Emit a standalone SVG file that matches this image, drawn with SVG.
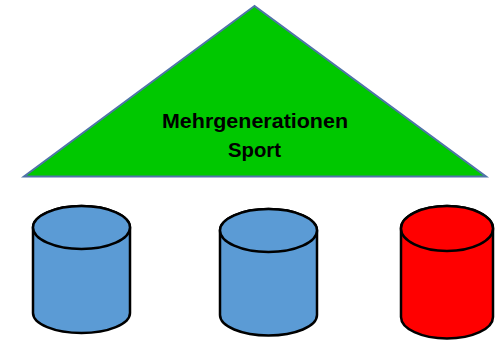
<svg xmlns="http://www.w3.org/2000/svg" width="503" height="341" viewBox="0 0 503 341">
<style>
.tri{fill:#00C800;stroke:#4F74A8;stroke-width:2;stroke-linejoin:miter}
.cyl{stroke:#000;stroke-width:2.5}
.blue{fill:#5B9BD5}
.red{fill:#FF0000}
.lbl{font-family:"Liberation Sans",Arial,sans-serif;font-weight:bold;font-size:20.5px;fill:#000;text-anchor:middle}
</style>
<rect width="503" height="341" fill="#fff"/>
<g id="triangle">
<polygon class="tri" points="254.5,6 24,176.5 486,176.5"/>
<text class="lbl" x="255" y="128" textLength="186" lengthAdjust="spacingAndGlyphs">Mehrgenerationen</text>
<text class="lbl" x="254.5" y="157" textLength="53" lengthAdjust="spacingAndGlyphs">Sport</text>
</g>
<g id="cyl1">
<path class="cyl blue" d="M33,227.5 L33,313 A48.5,20 0 0 0 130,313 L130,227.5 A48.5,21.5 0 0 0 33,227.5 Z"/>
<ellipse class="cyl blue" cx="81.5" cy="227.5" rx="48.5" ry="21.5"/>
</g>
<g id="cyl2">
<path class="cyl blue" d="M220,230.5 L220,315 A48.5,20.5 0 0 0 317,315 L317,230.5 A48.5,21.5 0 0 0 220,230.5 Z"/>
<ellipse class="cyl blue" cx="268.5" cy="230.5" rx="48.5" ry="21.5"/>
</g>
<g id="cyl3">
<path class="cyl red" d="M401,228.5 L401,317 A46,21.5 0 0 0 493,317 L493,228.5 A46,22.5 0 0 0 401,228.5 Z"/>
<ellipse class="cyl red" cx="447" cy="228.5" rx="46" ry="22.5"/>
</g>
<g id="connectors"/>
</svg>
